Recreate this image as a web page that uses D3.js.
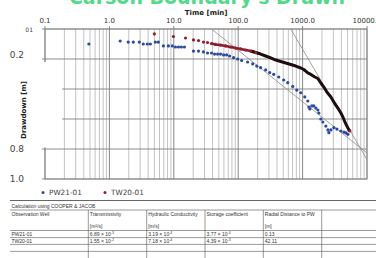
<!DOCTYPE html>
<html>
<head>
<meta charset="utf-8">
<script src="https://cdn.jsdelivr.net/npm/d3@7/dist/d3.min.js"></script>
<style>
	body { margin: 0; background: #fff; }
	svg { display: block; }
	text { font-family: "DejaVu Sans", sans-serif; }
	.cell { font-family: "Liberation Sans", Arial, sans-serif; font-size: 5px; fill: #333; }
</style>
</head>
<body>
<svg class="chart" width="376" height="258"></svg>
<script>
const chartTitle = "Carson Boundary's Drawn";
const timeTicks = [0.1, 1, 10, 100, 1000, 10000];
const timeTickLabels = ['0.1', '1.0', '10.0', '100.0', '1000.0', '10000.0'];
const drawdownTicks = [0, 0.2, 0.4, 0.6, 0.8, 1.0];
const drawdownTickLabels = ['01', '0.2', '', '', '0.8', '1.0'];

// PW21-01 (blue)
const pw21Time = [0.48, 1.47, 1.96, 2.35, 2.91, 3.36, 3.88, 4.32, 5.17, 5.75, 6.89, 8.24, 9.5,
	10.6, 11.8, 13.1, 14.6, 20.2, 24.2, 28.9, 33.4, 38.5, 42.9, 47.8, 53.2, 59.3, 66, 73.5,
	84.8, 98, 113, 140, 168, 194, 223, 267, 308, 356, 426, 509, 588, 703, 812, 938, 1082,
	1205, 1250, 1295, 1390, 1493, 1606, 1726, 1788, 1920, 2064, 2296, 2470, 2560, 2750,
	3060, 3410, 3935, 4385, 4710, 5060];
const pw21Drawdown = [0.10, 0.08, 0.087, 0.087, 0.087, 0.10, 0.10, 0.10, 0.087, 0.087, 0.113,
	0.113, 0.113, 0.12, 0.12, 0.12, 0.12, 0.147, 0.147, 0.153, 0.16, 0.16, 0.167, 0.167, 0.167,
	0.173, 0.173, 0.18, 0.191, 0.20, 0.21, 0.22, 0.233, 0.247, 0.258, 0.273, 0.29, 0.302, 0.32,
	0.34, 0.358, 0.383, 0.407, 0.425, 0.453, 0.48, 0.52, 0.533, 0.513, 0.513, 0.527, 0.54,
	0.56, 0.60, 0.62, 0.647, 0.673, 0.691, 0.673, 0.658, 0.667, 0.68, 0.687, 0.693, 0.702];

// TW20-01 (red)
const tw20Time = [4.99, 9.86, 15.2, 20.2, 24.2, 28.9, 33.4, 38.5, 44.5, 53.2, 63.7, 76.2, 91,
	109, 130, 156, 187, 223, 267, 320, 383, 457, 547, 655, 783, 938, 1045, 1205, 1343, 1549,
	1726, 1920, 2138, 2381, 2750, 3060, 3530, 3935, 4230, 4540, 4880, 5250, 5430];
const tw20Drawdown = [0.033, 0.05, 0.06, 0.073, 0.077, 0.087, 0.09, 0.097, 0.103, 0.107, 0.113,
	0.12, 0.127, 0.133, 0.14, 0.147, 0.157, 0.167, 0.18, 0.193, 0.207, 0.217, 0.227, 0.237,
	0.247, 0.26, 0.27, 0.293, 0.303, 0.32, 0.33, 0.36, 0.387, 0.42, 0.453, 0.487, 0.527, 0.56,
	0.587, 0.62, 0.647, 0.673, 0.68];

// Cooper & Jacob straight lines
const fitATime = [38.5, 10000];
const fitADrawdown = [0, 0.827];
const fitBTime = [655, 10000];
const fitBDrawdown = [0, 0.87];

const legendNames = ['PW21-01', 'TW20-01'];
const legendColors = ['#2c4a9e', '#961c30'];

const tableCaption = 'Calculation using COOPER & JACOB';
const tableHeaders = ['Observation Well', 'Transmissivity', 'Hydraulic Conductivity', 'Storage coefficient', 'Radial Distance to PW', ''];
const tableUnits = ['', '[m²/s]', '[m/s]', '', '[m]', ''];
const tableWells = ['PW21-01', 'TW20-01'];
const transMantissa = ['6.89', '1.55'];
const transExp = ['-3', '-2'];
const condMantissa = ['3.19', '7.18'];
const condExp = ['-4', '-4'];
const storMantissa = ['3.77', '4.39'];
const storExp = ['-4', '-3'];
const radialDistance = ['0.13', '42.11'];

function startApp() {
	const margin = {top: 29, left: 45, right: 9};
	const plotWidth = 376 - margin.left - margin.right;
	const plotHeight = 150;
	const svg = d3.select('.chart');
	const xScale = d3.scaleLog().domain([0.1, 10000]).range([0, plotWidth]);
	const yScale = d3.scaleLinear().domain([0, 1]).range([0, plotHeight]);

	svg.append('rect').attr('width', 376).attr('height', 258).attr('fill', '#fff');

	svg.append('text')
		.attr('x', 207).attr('y', 4)
		.attr('text-anchor', 'middle')
		.style('font-size', '19px').style('font-weight', 'bold')
		.attr('fill', '#52d98a')
		.text(chartTitle);

	const chart = svg.append('g')
		.attr('transform', `translate(${margin.left}, ${margin.top})`);

	// vertical log grid
	const minorTicks = d3.range(-1, 4).flatMap(p => d3.range(2, 10).map(m => m * Math.pow(10, p)));
	chart.append('g').selectAll('line')
		.data(minorTicks)
		.enter().append('line')
		.attr('x1', d => xScale(d)).attr('x2', d => xScale(d))
		.attr('y1', 0).attr('y2', plotHeight)
		.attr('stroke', '#b4b4b4').attr('stroke-width', 0.8);
	chart.append('g').selectAll('line')
		.data(timeTicks)
		.enter().append('line')
		.attr('x1', d => xScale(d)).attr('x2', d => xScale(d))
		.attr('y1', -3).attr('y2', plotHeight)
		.attr('stroke', '#7a7a7a').attr('stroke-width', 0.9);

	// horizontal grid
	chart.append('g').selectAll('line')
		.data(drawdownTicks)
		.enter().append('line')
		.attr('x1', -3).attr('x2', plotWidth)
		.attr('y1', d => yScale(d)).attr('y2', d => yScale(d))
		.attr('stroke', '#7f7f7f').attr('stroke-width', 0.9);

	chart.append('rect')
		.attr('width', plotWidth).attr('height', plotHeight)
		.attr('fill', 'none').attr('stroke', '#8a8a8a').attr('stroke-width', 0.9);

	// white box over the left of the plot, as in the source
	svg.append('rect')
		.attr('x', 28).attr('y', margin.top + yScale(0.22))
		.attr('width', 34).attr('height', yScale(0.57))
		.attr('fill', '#fff');

	chart.append('defs').append('clipPath').attr('id', 'plot-clip')
		.append('rect').attr('width', plotWidth).attr('height', plotHeight);

	const line = d3.line().x(d => xScale(d[0])).y(d => yScale(d[1]));
	const plot = chart.append('g').attr('clip-path', 'url(#plot-clip)');

	[[fitATime, fitADrawdown], [fitBTime, fitBDrawdown]].forEach(([times, values]) => {
		plot.append('path')
			.attr('d', line(d3.zip(times, values)))
			.attr('fill', 'none').attr('stroke', '#8c8c8c').attr('stroke-width', 0.8);
	});

	const pw21 = d3.zip(pw21Time, pw21Drawdown);
	const tw20 = d3.zip(tw20Time, tw20Drawdown);

	plot.append('g').selectAll('circle')
		.data(pw21)
		.enter().append('circle')
		.attr('cx', d => xScale(d[0])).attr('cy', d => yScale(d[1]))
		.attr('r', 1.6)
		.attr('fill', legendColors[0]);

	// dense part of TW20-01 reads as a thick trace
	plot.append('path')
		.attr('d', line(tw20.filter(d => d[0] >= 38 && d[0] <= 190)))
		.attr('fill', 'none').attr('stroke', '#8a1a2c').attr('stroke-width', 2.6);
	plot.append('path')
		.attr('d', line(tw20.filter(d => d[0] >= 150)))
		.attr('fill', 'none').attr('stroke', '#1e0d0f').attr('stroke-width', 3)
		.attr('stroke-linejoin', 'round');
	plot.append('g').selectAll('circle')
		.data(tw20.filter(d => d[0] < 190 || d[0] > 5300))
		.enter().append('circle')
		.attr('cx', d => xScale(d[0])).attr('cy', d => yScale(d[1]))
		.attr('r', 1.6)
		.attr('fill', legendColors[1]);

	// x axis labels on top
	chart.append('g').selectAll('text')
		.data(timeTicks)
		.enter().append('text')
		.attr('x', d => xScale(d)).attr('y', -6.5)
		.attr('text-anchor', 'middle')
		.style('font-size', '7px').attr('fill', '#333')
		.text((d, i) => timeTickLabels[i]);
	chart.append('text')
		.attr('x', xScale(100) - 32).attr('y', -14)
		.attr('text-anchor', 'middle')
		.style('font-size', '7px').style('font-weight', 'bold').attr('fill', '#222')
		.text('Time [min]');

	// y axis labels
	chart.append('g').selectAll('text')
		.data(drawdownTicks)
		.enter().append('text')
		.attr('x', (d, i) => i === 0 ? -12 : -21)
		.attr('y', d => yScale(d) + (d === 0.2 ? -1 : 3))
		.attr('text-anchor', 'end')
		.style('font-size', (d, i) => i === 0 ? '6px' : '9px')
		.attr('fill', '#444')
		.text((d, i) => drawdownTickLabels[i]);
	svg.append('text')
		.attr('transform', `translate(26, ${margin.top + yScale(0.54)}) rotate(-90)`)
		.attr('text-anchor', 'middle')
		.style('font-size', '7px').style('font-weight', 'bold').attr('fill', '#222')
		.text('Drawdown [m]');

	// legend
	const legend = svg.append('g').selectAll('g')
		.data(legendNames)
		.enter().append('g')
		.attr('transform', (d, i) => `translate(${43 + i * 62}, 192.5)`);
	legend.append('circle').attr('r', 1.5).attr('fill', (d, i) => legendColors[i]);
	legend.append('text')
		.attr('x', 6).attr('y', 2.6)
		.style('font-size', '7.3px').attr('fill', '#444')
		.text(d => d);

	// table
	const colX = [10, 88.3, 146.7, 205, 263.3, 321.7];
	const table = svg.append('g');
	const hLine = (y, w) => table.append('line')
		.attr('x1', 10).attr('x2', 376).attr('y1', y).attr('y2', y)
		.attr('stroke', '#555').attr('stroke-width', w);
	[[200.5, 0.9], [210, 0.6], [230.5, 0.6], [237.6, 0.6], [244.4, 0.6], [251.4, 0.6]]
		.forEach(([y, w]) => hLine(y, w));
	table.selectAll('.vline')
		.data(colX.slice(1))
		.enter().append('line')
		.attr('x1', d => d).attr('x2', d => d)
		.attr('y1', 210).attr('y2', 258)
		.attr('stroke', '#555').attr('stroke-width', 0.6);
	table.append('text').attr('class', 'cell')
		.attr('x', 11.5).attr('y', 207.5).text(tableCaption);
	table.selectAll('.hdr')
		.data(tableHeaders)
		.enter().append('text').attr('class', 'cell')
		.attr('x', (d, i) => colX[i] + 1.5).attr('y', 216)
		.text(d => d);
	table.selectAll('.unit')
		.data(tableUnits)
		.enter().append('text').attr('class', 'cell')
		.attr('x', (d, i) => colX[i] + 1.5).attr('y', 227.5)
		.text(d => d);

	tableWells.forEach((well, r) => {
		const y = 236 + r * 7;
		table.append('text').attr('class', 'cell').attr('x', colX[0] + 1.5).attr('y', y).text(well);
		[[transMantissa, transExp], [condMantissa, condExp], [storMantissa, storExp]]
			.forEach(([mant, exp], c) => {
				const t = table.append('text').attr('class', 'cell')
					.attr('x', colX[c + 1] + 1.5).attr('y', y);
				t.append('tspan').text(`${mant[r]} × 10`);
				t.append('tspan').attr('dy', -2).style('font-size', '3.5px').text(exp[r]);
			});
		table.append('text').attr('class', 'cell').attr('x', colX[4] + 1.5).attr('y', y).text(radialDistance[r]);
	});
}

window.onload = startApp;
</script>
</body>
</html>
